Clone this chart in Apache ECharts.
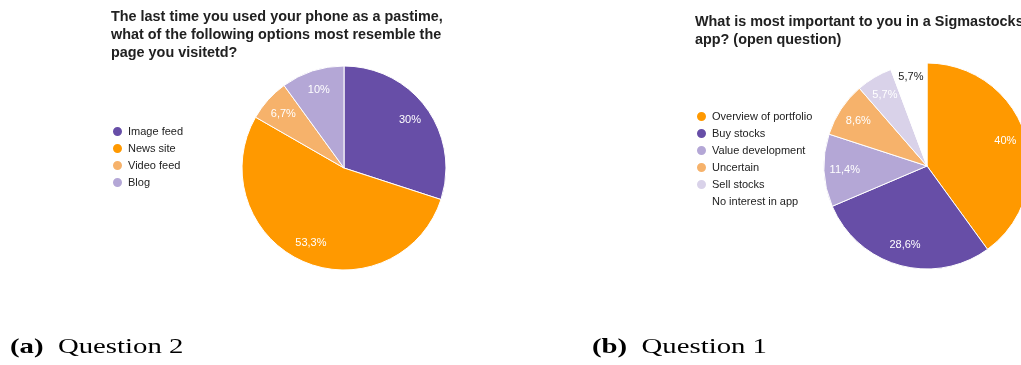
<!DOCTYPE html>
<html>
<head>
<meta charset="utf-8">
<script src="https://cdn.jsdelivr.net/npm/echarts@6/dist/echarts.min.js"></script>
<style>
  html, body { margin: 0; padding: 0; background: #ffffff; }
  #chart { width: 1021px; height: 365px; }
</style>
</head>
<body>
<div id="chart"></div>
<script>
// Question 2: type of page visited while using the phone as a pastime
const q2Categories = ['Image feed', 'News site', 'Video feed', 'Blog'];
const q2Values = [30, 53.3, 6.7, 10];
const q2Colors = ['#674ea7', '#ff9900', '#f6b26b', '#b4a7d6'];

// Question 1: most important feature in a Sigmastocks app
const q1Categories = ['Overview of portfolio', 'Buy stocks', 'Value development', 'Uncertain', 'Sell stocks', 'No interest in app'];
const q1Values = [40, 28.6, 11.4, 8.6, 5.7, 5.7];
const q1Colors = ['#ff9900', '#674ea7', '#b4a7d6', '#f6b26b', '#d9d2e9', '#ffffff'];

const q2Title = 'The last time you used your phone as a pastime,\nwhat of the following options most resemble the\npage you visitetd?';
const q1Title = 'What is most important to you in a Sigmastocks\napp? (open question)';
const captions = [['(a)', 'Question 2'], ['(b)', 'Question 1']];

const sansFont = '"Liberation Sans", Arial, sans-serif';
const serifFont = '"Liberation Serif", "DejaVu Serif", serif';

function pct(v) {
  return String(v).replace('.', ',') + '%';
}

function sliceData(names, values, colors) {
  return names.map((n, i) => ({ name: n, value: values[i], itemStyle: { color: colors[i] } }));
}

// Transparent ring that only carries labels, so they sit around 3/4 of the radius
function labelRing(names, values, center, inner, outer, pick, textColor) {
  return {
    type: 'pie',
    center: center,
    radius: [inner, outer],
    silent: true,
    startAngle: 90,
    itemStyle: { color: 'rgba(0,0,0,0)', borderWidth: 0 },
    label: { show: false },
    labelLine: { show: false },
    data: names.map((n, i) => ({
      name: n,
      value: values[i],
      itemStyle: { color: 'rgba(0,0,0,0)' },
      label: {
        show: pick(i),
        position: 'inside',
        formatter: pct(values[i]),
        color: textColor,
        fontFamily: sansFont,
        fontSize: 11
      }
    }))
  };
}

const chart = echarts.init(document.getElementById('chart'), null, { renderer: 'canvas' });

const leftCenter = [344, 168];
const rightCenter = [927, 166];
const leftR = 102;
const rightR = 103;

const titleStyle = { fontFamily: sansFont, fontSize: 14.4, fontWeight: 'bold', color: '#212121', lineHeight: 18 };
const legendBase = {
  orient: 'vertical', padding: 0,
  icon: 'circle', itemWidth: 11, itemHeight: 11, itemGap: 4,
  selectedMode: false,
  textStyle: { fontFamily: sansFont, fontSize: 11, color: '#222222' }
};

chart.setOption({
  animation: false,
  backgroundColor: '#ffffff',
  title: [
    { text: q2Title, left: 111, top: 8, padding: 0, textStyle: titleStyle },
    { text: q1Title, left: 695, top: 13, padding: 0, textStyle: titleStyle }
  ],
  legend: [
    Object.assign({ data: q2Categories, left: 111, top: 125 }, legendBase),
    Object.assign({ data: q1Categories, left: 695, top: 110 }, legendBase)
  ],
  graphic: captions.map((c, i) => ({
    type: 'text',
    x: i === 0 ? 10 : 592,
    y: 337,
    scaleX: 1.37,
    style: {
      x: 0, y: 0,
      verticalAlign: 'top',
      rich: {
        b: { fontFamily: serifFont, fontSize: 21, fontWeight: 'bold', fill: '#000' },
        n: { fontFamily: serifFont, fontSize: 21, fill: '#000' }
      },
      text: '{b|' + c[0] + '}{n|  ' + c[1] + '}'
    }
  })),
  series: [
    {
      type: 'pie', name: 'q2', center: leftCenter, radius: [0, leftR],
      startAngle: 90, silent: true,
      itemStyle: { borderColor: '#ffffff', borderWidth: 1 },
      label: { show: false }, labelLine: { show: false },
      data: sliceData(q2Categories, q2Values, q2Colors)
    },
    labelRing(q2Categories, q2Values, leftCenter, leftR * 0.54, leftR, () => true, '#ffffff'),
    {
      type: 'pie', name: 'q1', center: rightCenter, radius: [0, rightR],
      startAngle: 90, silent: true,
      itemStyle: { borderColor: '#ffffff', borderWidth: 1 },
      label: { show: false }, labelLine: { show: false },
      data: sliceData(q1Categories, q1Values, q1Colors)
    },
    labelRing(q1Categories, q1Values, rightCenter, rightR * 0.54, rightR, i => i < q1Values.length - 1, '#ffffff'),
    // the white "No interest" slice carries a dark label further out
    labelRing(q1Categories, q1Values, rightCenter, rightR * 0.70, rightR, i => i === q1Values.length - 1, '#222222')
  ]
});
</script>
</body>
</html>
